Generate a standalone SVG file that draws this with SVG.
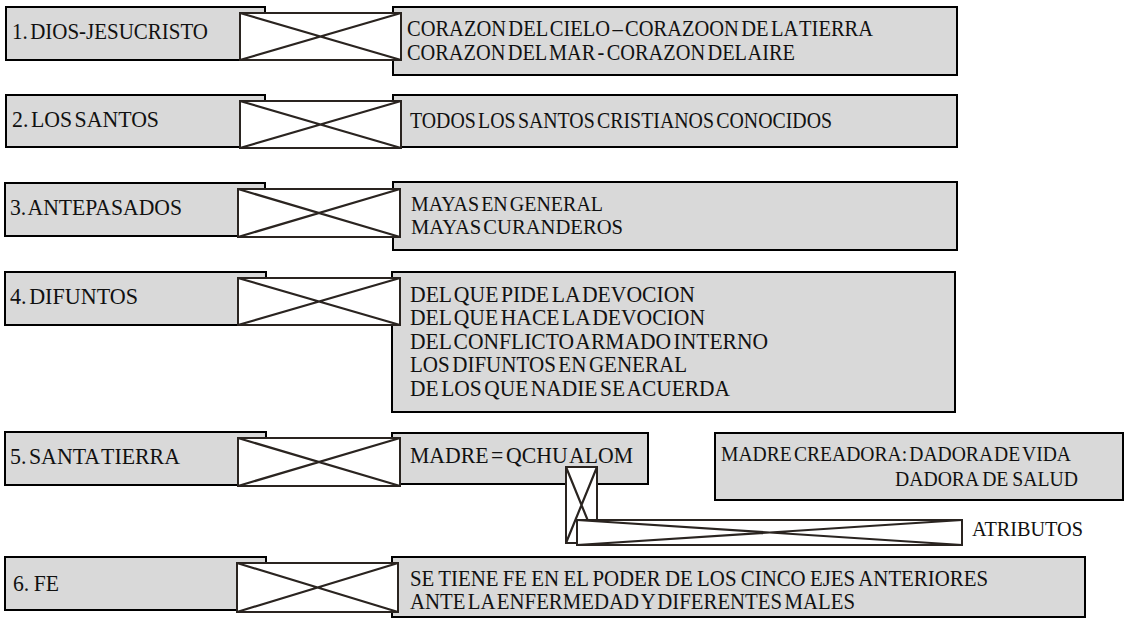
<svg xmlns="http://www.w3.org/2000/svg" width="1125" height="620" viewBox="0 0 1125 620" font-family="'Liberation Serif', 'DejaVu Serif', serif">
<style>
  .box { fill: #d9d9d9; stroke: #000; stroke-width: 2; }
  .link { fill: #fff; stroke: #2a2420; stroke-width: 2; }
  .x { stroke: #2a2420; stroke-width: 2.2; fill: none; }
  text { font-family: 'Liberation Serif', 'DejaVu Serif', serif; fill: #111; word-spacing: -3px; }
  .t19 { font-size: 20.5px; }
  .t20 { font-size: 21.5px; }
  .t21 { font-size: 22.5px; }
  .t22 { font-size: 23px; }
  .plain { word-spacing: -1px; }
</style>
<rect width="1125" height="620" fill="#fff"/>

<g id="n1-label"><rect class="box" x="6" y="7" width="259" height="53"/><text class="t21" x="12" y="39" textLength="196" lengthAdjust="spacingAndGlyphs">1. DIOS-JESUCRISTO</text></g>
<g id="n1-desc"><rect class="box" x="393" y="7" width="564" height="68"/>
  <text class="t21" x="407" y="36" textLength="466" lengthAdjust="spacingAndGlyphs">CORAZON DEL CIELO – CORAZOON DE LA TIERRA</text>
  <text class="t21" x="407" y="60" textLength="388" lengthAdjust="spacingAndGlyphs">CORAZON DEL MAR - CORAZON DEL AIRE</text></g>

<g id="n2-label"><rect class="box" x="6" y="95" width="259" height="52"/><text class="t21" x="12" y="127" textLength="147" lengthAdjust="spacingAndGlyphs">2. LOS SANTOS</text></g>
<g id="n2-desc"><rect class="box" x="393" y="95" width="564" height="52"/>
  <text class="t21" x="410" y="128" textLength="422" lengthAdjust="spacingAndGlyphs">TODOS LOS SANTOS CRISTIANOS CONOCIDOS</text></g>

<g id="n3-label"><rect class="box" x="5" y="183" width="260" height="53"/><text class="t21" x="10" y="215" textLength="172" lengthAdjust="spacingAndGlyphs">3. ANTEPASADOS</text></g>
<g id="n3-desc"><rect class="box" x="393" y="182" width="564" height="68"/>
  <text class="t19" x="411" y="211" textLength="192" lengthAdjust="spacingAndGlyphs">MAYAS EN GENERAL</text>
  <text class="t19" x="411" y="234" textLength="212" lengthAdjust="spacingAndGlyphs">MAYAS CURANDEROS</text></g>

<g id="n4-label"><rect class="box" x="5" y="272" width="261" height="53"/><text class="t21" x="10" y="304" textLength="128" lengthAdjust="spacingAndGlyphs">4. DIFUNTOS</text></g>
<g id="n4-desc"><rect class="box" x="392" y="272" width="563" height="140"/>
  <text class="t22" x="410" y="302" textLength="285" lengthAdjust="spacingAndGlyphs">DEL QUE PIDE LA DEVOCION</text>
  <text class="t22" x="410" y="325" textLength="295" lengthAdjust="spacingAndGlyphs">DEL QUE HACE LA DEVOCION</text>
  <text class="t22" x="410" y="349" textLength="358" lengthAdjust="spacingAndGlyphs">DEL CONFLICTO ARMADO INTERNO</text>
  <text class="t22" x="410" y="372" textLength="277" lengthAdjust="spacingAndGlyphs">LOS DIFUNTOS EN GENERAL</text>
  <text class="t22" x="410" y="396" textLength="320" lengthAdjust="spacingAndGlyphs">DE LOS QUE NADIE SE ACUERDA</text></g>

<g id="n5-label"><rect class="box" x="5" y="432" width="261" height="53"/><text class="t21" x="10" y="464" textLength="170" lengthAdjust="spacingAndGlyphs">5. SANTA TIERRA</text></g>
<g id="n5-desc"><rect class="box" x="392" y="433" width="256" height="51"/>
  <text class="t22" x="410" y="463" textLength="223" lengthAdjust="spacingAndGlyphs">MADRE = QCHU ALOM</text></g>
<g id="n5-attr"><rect class="box" x="715" y="433" width="408" height="67"/>
  <text class="t20" x="721" y="461" textLength="350" lengthAdjust="spacingAndGlyphs">MADRE CREADORA: DADORA DE VIDA</text>
  <text class="t20 plain" x="895" y="486" textLength="183" lengthAdjust="spacingAndGlyphs">DADORA DE SALUD</text></g>
<g id="n5-atributos"><text class="t20" x="972" y="536" textLength="111" lengthAdjust="spacingAndGlyphs">ATRIBUTOS</text></g>

<g id="n6-label"><rect class="box" x="5" y="557" width="261" height="53"/><text class="t21 plain" x="13" y="591" textLength="46" lengthAdjust="spacingAndGlyphs">6. FE</text></g>
<g id="n6-desc"><rect class="box" x="392" y="557" width="693" height="60"/>
  <text class="t21 plain" x="410" y="586" textLength="578" lengthAdjust="spacingAndGlyphs">SE TIENE FE EN EL PODER DE LOS CINCO EJES ANTERIORES</text>
  <text class="t21" x="410" y="609" textLength="445" lengthAdjust="spacingAndGlyphs">ANTE LA ENFERMEDAD Y DIFERENTES MALES</text></g>

<g id="connectors">
  <g id="c1"><rect class="link" x="240" y="13" width="161" height="47"/><path class="x" d="M240 13 L401 60 M401 13 L240 60"/></g>
  <g id="c2"><rect class="link" x="240" y="101" width="161" height="47"/><path class="x" d="M240 101 L401 148 M401 101 L240 148"/></g>
  <g id="c3"><rect class="link" x="238" y="189" width="162" height="48"/><path class="x" d="M238 189 L400 237 M400 189 L238 237"/></g>
  <g id="c4"><rect class="link" x="238" y="278" width="162" height="47"/><path class="x" d="M238 278 L400 325 M400 278 L238 325"/></g>
  <g id="c5"><rect class="link" x="238" y="438" width="162" height="48"/><path class="x" d="M238 438 L400 486 M400 438 L238 486"/></g>
  <g id="c5v"><rect class="link" x="566" y="467" width="31" height="76"/><path class="x" d="M566 467 L597 543 M597 467 L566 543"/></g>
  <g id="c5h"><rect class="link" x="577" y="520" width="385" height="25"/><path class="x" d="M577 520 L962 545 M962 520 L577 545"/></g>
  <g id="c6"><rect class="link" x="237" y="563" width="161" height="49"/><path class="x" d="M237 563 L398 612 M398 563 L237 612"/></g>
</g>
</svg>
